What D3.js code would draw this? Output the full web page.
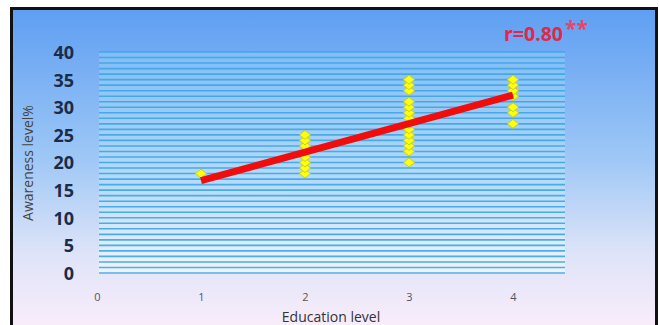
<!DOCTYPE html>
<html><head><meta charset="utf-8">
<script src="https://cdn.jsdelivr.net/npm/d3@7"></script>
<style>html,body{margin:0;padding:0;background:#fff;}svg{display:block;}</style>
</head><body>
<script>
// ---- data ----
const educationLevels = [1, 2, 3, 4];
const awarenessByLevel = [
  [18],
  [18, 19, 20, 21, 22, 23, 24, 25],
  [20, 22, 23, 24, 25, 26, 27, 28, 29, 30, 31, 33, 34, 35],
  [27, 29, 30, 32, 33, 34, 35]
];
const trendX = [1, 4];
const trendY = [16.7, 32.2];
const xTicks = [0, 1, 2, 3, 4];
const yTicks = [0, 5, 10, 15, 20, 25, 30, 35, 40];
const correlationLabel = "r=0.80";
const significanceLabel = "**";
const xTitle = "Education level";
const yTitle = "Awareness level%";

const W = 659, H = 325;
const svg = d3.select("body").append("svg").attr("width", W).attr("height", H);
const defs = svg.append("defs");

const bg = defs.append("linearGradient").attr("id", "bg").attr("x1", 0).attr("y1", 0).attr("x2", 0).attr("y2", 1);
bg.append("stop").attr("offset", "0").attr("stop-color", "#5e9ef2");
bg.append("stop").attr("offset", "0.45").attr("stop-color", "#9dc7f6");
bg.append("stop").attr("offset", "0.75").attr("stop-color", "#dfe4f8");
bg.append("stop").attr("offset", "1").attr("stop-color", "#fdeefb");

const pg = defs.append("linearGradient").attr("id", "pg").attr("x1", 0).attr("y1", 0).attr("x2", 0).attr("y2", 1);
pg.append("stop").attr("offset", "0").attr("stop-color", "#82bdf6");
pg.append("stop").attr("offset", "0.6").attr("stop-color", "#b8dcf8");
pg.append("stop").attr("offset", "1").attr("stop-color", "#f2f4fc");

// frame + background
svg.append("rect").attr("x", 11).attr("y", 8).attr("width", 645).attr("height", 330).attr("fill", "url(#bg)");
svg.append("rect").attr("x", 11.5).attr("y", 8.5).attr("width", 645).attr("height", 330)
  .attr("fill", "none").attr("stroke", "#111").attr("stroke-width", 3);

const x = d3.scaleLinear().domain([0, 4.5]).range([97, 565]);
const y = d3.scaleLinear().domain([0, 40]).range([273, 52]);

// plot area
svg.append("rect").attr("x", 99).attr("y", y(40)).attr("width", x(4.5) - 99).attr("height", y(0) - y(40) + 1)
  .attr("fill", "url(#pg)");

// grid lines every unit
const gridVals = d3.range(0, 41, 1);
svg.append("g").selectAll("line").data(gridVals).join("line")
  .attr("x1", 99).attr("x2", x(4.5))
  .attr("y1", d => y(d)).attr("y2", d => y(d))
  .attr("stroke", "#3ea6e6").attr("stroke-width", 1.6).attr("opacity", 0.9);

// y axis labels
const yAxis = d3.axisLeft(y).tickValues(yTicks).tickSize(0).tickPadding(0).tickFormat(d3.format("d"));
const gy = svg.append("g").attr("transform", "translate(74,0)").call(yAxis);
gy.select(".domain").remove();
gy.selectAll("text").attr("font-family", "Open Sans").attr("font-weight", 700)
  .attr("font-size", 18).attr("fill", "#1c2c48").attr("dy", "0.36em");

// x axis labels
const xAxis = d3.axisBottom(x).tickValues(xTicks).tickSize(0).tickPadding(0).tickFormat(d3.format("d"));
const gx = svg.append("g").attr("transform", "translate(0,297)").call(xAxis);
gx.select(".domain").remove();
gx.selectAll("text").attr("font-family", "Open Sans").attr("font-size", 11).attr("fill", "#555").attr("dy", "0.35em");

// titles
svg.append("text").attr("x", 331).attr("y", 322).attr("text-anchor", "middle")
  .attr("font-family", "Open Sans").attr("font-size", 14).attr("fill", "#333").text(xTitle);
svg.append("text").attr("transform", "translate(33,163) rotate(-90)").attr("text-anchor", "middle")
  .attr("font-family", "Open Sans").attr("font-size", 14).attr("fill", "#444").text(yTitle);

// points
const points = educationLevels.flatMap((lvl, i) => awarenessByLevel[i].map(v => ({x: lvl, y: v})));
const diamond = {
  draw(ctx, size) {
    const w = Math.sqrt(size) * 0.62, h = Math.sqrt(size) * 0.5;
    ctx.moveTo(0, -h); ctx.lineTo(w, 0); ctx.lineTo(0, h); ctx.lineTo(-w, 0); ctx.closePath();
  }
};
svg.append("g").selectAll("path").data(points).join("path")
  .attr("transform", d => `translate(${x(d.x)},${y(d.y)})`)
  .attr("d", d3.symbol().type(diamond).size(80))
  .attr("fill", "#ffff10").attr("stroke", "#c9d21a").attr("stroke-width", 1);

// trend line
const trend = trendX.map((v, i) => [v, trendY[i]]);
svg.append("path").datum(trend)
  .attr("d", d3.line().x(d => x(d[0])).y(d => y(d[1])))
  .attr("fill", "none").attr("stroke", "#f20d0d").attr("stroke-width", 7).attr("stroke-linecap", "butt");

// correlation label
const rt = svg.append("text").attr("x", 504).attr("y", 41)
  .attr("font-family", "Open Sans").attr("font-weight", 700).attr("font-size", 19.5).attr("fill", "#dc2a4c");
rt.append("tspan").text(correlationLabel);
rt.append("tspan").attr("dy", -5).attr("dx", 2).attr("fill", "#e8456a").attr("font-size", 21).text(significanceLabel);
</script>
</body></html>
